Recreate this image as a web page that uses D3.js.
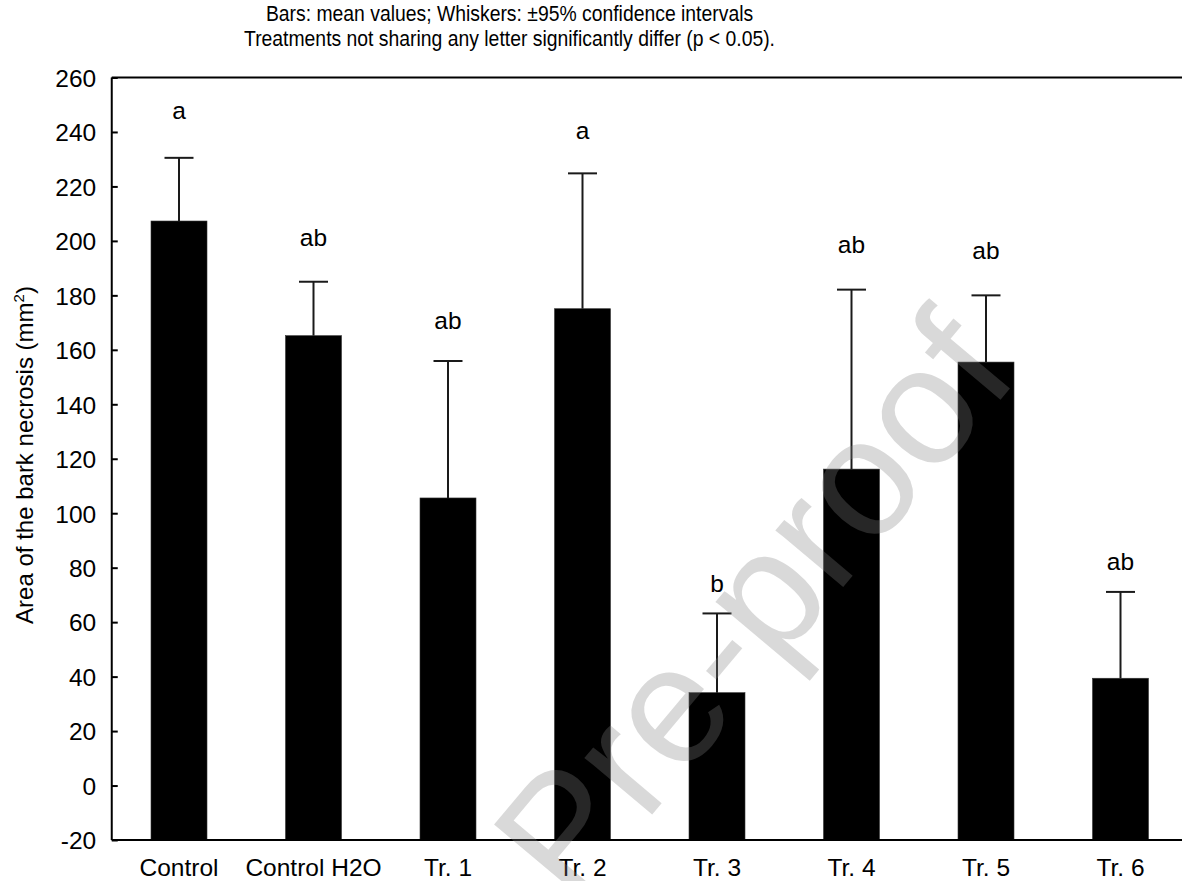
<!DOCTYPE html>
<html>
<head>
<meta charset="utf-8">
<script src="https://cdn.jsdelivr.net/npm/d3@7"></script>
<style>
  html, body { margin: 0; padding: 0; background: #fff; }
  svg { display: block; }
  text { font-family: "Liberation Sans", Arial, sans-serif; fill: #000; }
</style>
</head>
<body>
<svg id="chart" width="1182" height="881"></svg>
<script>
// ---- data ----
const categories = ["Control", "Control H2O", "Tr. 1", "Tr. 2", "Tr. 3", "Tr. 4", "Tr. 5", "Tr. 6"];
const means      = [207.3, 165.2, 105.6, 175.1, 34.1, 116.2, 155.5, 39.4];
const ciUpper    = [230.5, 185.0, 155.9, 224.8, 63.2, 182.1, 180.0, 71.1];
const letters    = ["a", "ab", "ab", "a", "b", "ab", "ab", "ab"];
const letterAt   = [244.9, 198.3, 167.5, 237.4, 71.1, 195.7, 193.4, 79.3];
const yTicks     = [-20, 0, 20, 40, 60, 80, 100, 120, 140, 160, 180, 200, 220, 240, 260];
const titleLines = ["Bars: mean values; Whiskers: \u00B195% confidence intervals",
                    "Treatments not sharing any letter significantly differ (p < 0.05)."];
const yLabel     = "Area of the bark necrosis (mm";
const yLabelSup  = "2";
const watermark  = "Pre-proof";

// ---- layout ----
const pLeft = 111.75, pRight = 1187.75, pTop = 77.5, pBottom = 840;
const svg = d3.select("#chart");

const x = d3.scaleBand().domain(categories).range([pLeft, pRight]).padding(0);
const y = d3.scaleLinear().domain([-20, 260]).range([pBottom, pTop]);
const barW = 56, capW = 29;
const cx = c => x(c) + x.bandwidth() / 2;

// bars
svg.append("g").selectAll("rect").data(categories).join("rect")
  .attr("x", c => cx(c) - barW / 2)
  .attr("width", barW)
  .attr("y", (c, i) => y(means[i]))
  .attr("height", (c, i) => y(-20) - y(means[i]))
  .attr("fill", "#000")
  .attr("stroke", "#333")
  .attr("stroke-width", 0.6);

// whiskers
const wg = svg.append("g").attr("stroke", "#1a1a1a").attr("stroke-width", 2);
wg.selectAll("line.v").data(categories).join("line").attr("class", "v")
  .attr("x1", cx).attr("x2", cx)
  .attr("y1", (c, i) => y(means[i]))
  .attr("y2", (c, i) => y(ciUpper[i]));
wg.selectAll("line.cap").data(categories).join("line").attr("class", "cap")
  .attr("x1", c => cx(c) - capW / 2).attr("x2", c => cx(c) + capW / 2)
  .attr("y1", (c, i) => y(ciUpper[i]))
  .attr("y2", (c, i) => y(ciUpper[i]));

// significance letters
svg.append("g").selectAll("text").data(categories).join("text")
  .attr("x", cx)
  .attr("y", (c, i) => y(letterAt[i]))
  .attr("text-anchor", "middle")
  .style("font-size", "24.5px")
  .text((c, i) => letters[i]);

// frame lines (left, top, bottom)
const fg = svg.append("g").attr("stroke", "#000").attr("stroke-width", 2).attr("fill", "none");
fg.append("line").attr("x1", pLeft).attr("x2", pLeft).attr("y1", pTop).attr("y2", pBottom);
fg.append("line").attr("x1", pLeft).attr("x2", pRight).attr("y1", pTop).attr("y2", pTop);
fg.append("line").attr("x1", pLeft).attr("x2", pRight).attr("y1", pBottom).attr("y2", pBottom);

// y axis (ticks inside)
const yAxis = d3.axisLeft(y).tickValues(yTicks).tickSize(-6).tickPadding(15.5).tickFormat(d => String(d));
const ya = svg.append("g").attr("transform", `translate(${pLeft},0)`).call(yAxis);
ya.select(".domain").remove();
ya.selectAll(".tick line").attr("stroke", "#000").attr("stroke-width", 2);
ya.selectAll(".tick text")
  .style("font-family", "'Liberation Sans', Arial, sans-serif")
  .style("font-size", "24.5px").attr("fill", "#000").attr("dy", "0.36em");

// x axis labels
const xAxis = d3.axisBottom(x).tickSize(0).tickPadding(0);
const xa = svg.append("g").attr("transform", `translate(0,${pBottom})`).call(xAxis);
xa.select(".domain").remove();
xa.selectAll(".tick text")
  .style("font-family", "'Liberation Sans', Arial, sans-serif")
  .style("font-size", "24.5px").attr("fill", "#000")
  .attr("y", 36).attr("dy", 0);

// y axis title
const yl = svg.append("text")
  .attr("transform", "translate(32.5,455) rotate(-90)")
  .attr("text-anchor", "middle")
  .style("font-size", "24px");
yl.append("tspan").text(yLabel);
yl.append("tspan").text(yLabelSup).style("font-size", "15px").attr("dy", "-9");
yl.append("tspan").text(")").attr("dy", "9");

// chart title (slightly condensed)
titleLines.forEach((t, i) => {
  svg.append("g")
    .attr("transform", `translate(509.5,${21 + i * 25}) scale(0.88,1)`)
    .append("text")
    .attr("text-anchor", "middle")
    .style("font-size", "22px")
    .text(t);
});

// watermark
svg.append("text")
  .attr("transform", "translate(797,642) rotate(-50)")
  .attr("text-anchor", "middle")
  .style("font-size", "167px")
  .style("fill", "#808080")
  .style("fill-opacity", 0.3)
  .text(watermark);
</script>
</body>
</html>
